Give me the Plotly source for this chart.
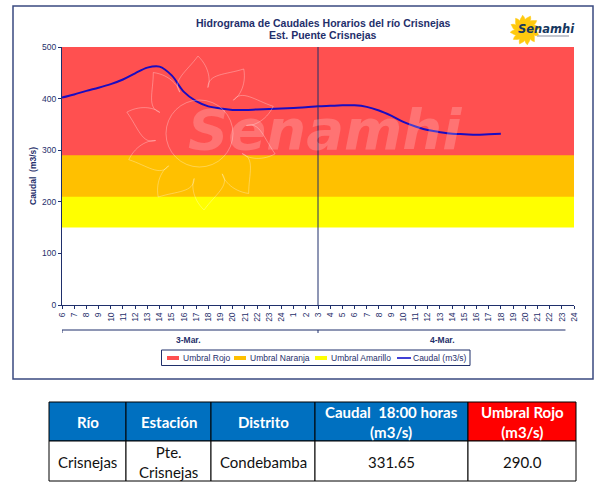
import math
import plotly.graph_objects as go

W = 612
H = 492

# hourly axis, 3-Mar 06h to 4-Mar 24h
horas = [6, 7, 8, 9, 10, 11, 12, 13, 14, 15, 16, 17, 18, 19, 20, 21, 22, 23, 24,
         1, 2, 3, 4, 5, 6, 7, 8, 9, 10, 11, 12, 13, 14, 15, 16, 17, 18, 19, 20, 21, 22, 23, 24]
caudal = [402, 408, 415, 421, 428, 437, 449, 460, 462, 445, 413, 395, 385, 381, 378, 378,
          379, 380, 381, 382, 383, 385, 386, 387, 387, 384, 377, 367, 355, 346, 339, 335,
          332, 331, 330, 331, 332]
umbral_rojo = 290
umbral_naranja = 210
umbral_amarillo = 150
tope = 500

tabla_head = ["Río", "Estación", "Distrito", "Caudal  18:00 horas<br>(m3/s)", "Umbral Rojo<br>(m3/s)"]
tabla_row = ["Crisnejas", "Pte.<br>Crisnejas", "Condebamba", "331.65", "290.0"]
head_colors = ["#0070c0", "#0070c0", "#0070c0", "#0070c0", "#ff0000"]

leg_names = ["Umbral Rojo", "Umbral Naranja", "Umbral Amarillo", "Caudal (m3/s)"]
leg_colors = ["#ff5050", "#ffc000", "#ffff00", "#0000c8"]

NAVY = "#1f2f6b"
WM = "rgba(255,255,255,0.3)"


def px(x):
    return x / W


def py(y):
    return 1 - y / H


def sun_path(cx, cy, r0, r1, n, rot):
    # flame shaped rays around a centre, in pixels
    def pt(r, ang):
        return "%.4f,%.4f" % (px(cx + r * math.cos(ang)), py(cy + r * math.sin(ang)))
    step = 2 * math.pi / n
    parts = ["M" + pt(r0, rot)]
    for i in range(n):
        a = rot + i * step
        b = a + step
        tip = a + step * 0.7
        parts.append("C%s %s %s" % (pt(r1 * 0.78, a - step * 0.05), pt(r1 * 0.82, a + step * 0.4), pt(r1, tip)))
        parts.append("C%s %s %s" % (pt(r1 * 0.85, a + step * 1.0), pt(r1 * 0.66, b + step * 0.05), pt(r0, b)))
    return " ".join(parts) + " Z"


x = list(range(len(horas)))
x_caudal = x[:len(caudal)]

fig = go.Figure()

# threshold bands, largest first so the lower ones paint over
bands = [("Umbral Rojo", tope, leg_colors[0]),
         ("Umbral Naranja", umbral_rojo, leg_colors[1]),
         ("Umbral Amarillo", umbral_naranja, leg_colors[2]),
         ("base", umbral_amarillo, "#ffffff")]
for name, val, col in bands:
    fig.add_trace(go.Scatter(x=x, y=[val] * len(x), name=name, mode="lines", fill="tozeroy",
                             fillcolor=col, line=dict(color=col, width=0), hoverinfo="skip"))

fig.add_trace(go.Scatter(x=x_caudal, y=caudal, name="Caudal (m3/s)", mode="lines",
                         line=dict(color="#1a0cc0", width=2, shape="spline")))

shapes = [
    # outer chart frame
    dict(type="rect", xref="paper", yref="paper", x0=px(13), x1=px(593), y0=py(379), y1=py(6),
         line=dict(color="#3a4a80", width=1.5), layer="below"),
    # day separator
    dict(type="line", xref="x", yref="y", x0=21, x1=21, y0=0, y1=tope,
         line=dict(color=NAVY, width=1)),
    # day bracket under the hours
    dict(type="line", xref="x", yref="paper", x0=0, x1=41.3, y0=py(330), y1=py(330),
         line=dict(color=NAVY, width=1)),
    dict(type="line", xref="x", yref="paper", x0=0, x1=0, y0=py(330), y1=py(333),
         line=dict(color=NAVY, width=1)),
    dict(type="line", xref="x", yref="paper", x0=21, x1=21, y0=py(330), y1=py(333),
         line=dict(color=NAVY, width=1)),
    # watermark sun
    dict(type="circle", xref="paper", yref="paper", x0=px(166), x1=px(233), y0=py(167), y1=py(100),
         line=dict(color=WM, width=1)),
    dict(type="path", xref="paper", yref="paper", path=sun_path(201, 133, 46, 77, 10, -2.05),
         line=dict(color=WM, width=1)),
    # logo
    dict(type="path", xref="paper", yref="paper", path=sun_path(525, 30, 9, 15, 12, 0.0),
         fillcolor="#ffc90e", line=dict(color="#ffc90e", width=0.5)),
    dict(type="line", xref="paper", yref="paper", x0=px(537), x1=px(569), y0=py(36), y1=py(36),
         line=dict(color="#b0b4c0", width=1.5)),
    # legend box
    dict(type="rect", xref="paper", yref="paper", x0=px(161.5), x1=px(470), y0=py(365.5), y1=py(350),
         fillcolor="white", line=dict(color=NAVY, width=1)),
]

annotations = [
    dict(text="<b>Hidrograma de Caudales Horarios del río Crisnejas</b>", x=px(323), y=py(23),
         font=dict(size=10.5, color=NAVY)),
    dict(text="<b>Est. Puente Crisnejas</b>", x=px(323), y=py(35.5),
         font=dict(size=10.5, color=NAVY)),
    dict(text="<b>Caudal  (m3/s)</b>", x=px(33), y=py(176), textangle=-90,
         font=dict(size=8.5, color=NAVY)),
    dict(text="<b>3-Mar.</b>", x=px(188), y=py(340), font=dict(size=8.5, color=NAVY)),
    dict(text="<b>4-Mar.</b>", x=px(442), y=py(340), font=dict(size=8.5, color=NAVY)),
    dict(text="<b><i>Senamhi</i></b>", x=px(325), y=py(130),
         font=dict(size=56, color="rgba(255,255,255,0.2)", family="DejaVu Sans")),
    dict(text="<b><i>Senamhi</i></b>", x=px(546), y=py(29),
         font=dict(size=11.5, color="#17375e", family="DejaVu Sans")),
]

# legend drawn by hand so it fits the narrow box
leg_swatch = [167, 234, 315, 397]
for i, name in enumerate(leg_names):
    x0 = leg_swatch[i]
    if i < 3:
        shapes.append(dict(type="rect", xref="paper", yref="paper", x0=px(x0), x1=px(x0 + 12),
                           y0=py(360), y1=py(356), fillcolor=leg_colors[i], line=dict(width=0)))
    else:
        shapes.append(dict(type="line", xref="paper", yref="paper", x0=px(x0), x1=px(x0 + 14),
                           y0=py(358), y1=py(358), line=dict(color=leg_colors[i], width=1.5)))
    annotations.append(dict(text=name, x=px(x0 + 14), y=py(358), xanchor="left",
                            font=dict(size=8.5, color=NAVY)))

# table below the chart
col_edges = [49, 126, 211, 315, 468, 576]
row_edges = [402, 441, 481]
for i in range(len(tabla_head)):
    l, r = col_edges[i], col_edges[i + 1]
    shapes.append(dict(type="rect", xref="paper", yref="paper", x0=px(l), x1=px(r),
                       y0=py(row_edges[1]), y1=py(row_edges[0]), fillcolor=head_colors[i],
                       line=dict(color="black", width=1)))
    shapes.append(dict(type="rect", xref="paper", yref="paper", x0=px(l), x1=px(r),
                       y0=py(row_edges[2]), y1=py(row_edges[1]), fillcolor="white",
                       line=dict(color="black", width=1)))
    annotations.append(dict(text="<b>%s</b>" % tabla_head[i], x=px((l + r) / 2), y=py(421.5),
                            font=dict(family="Lato", size=15, color="white")))
    annotations.append(dict(text=tabla_row[i], x=px((l + r) / 2), y=py(461.5),
                            font=dict(family="Lato", size=15, color="#111111")))

for a in annotations:
    a.update(xref="paper", yref="paper", showarrow=False, yanchor="middle")
    a.setdefault("xanchor", "center")

fig.update_layout(
    width=W, height=H,
    margin=dict(l=0, r=0, t=0, b=0, autoexpand=False),
    paper_bgcolor="white", plot_bgcolor="white",
    font=dict(family="Liberation Sans", color=NAVY),
    shapes=shapes, annotations=annotations, showlegend=False,
    xaxis=dict(domain=[px(62), px(574)], range=[0, 42], tickmode="array", tickvals=x, ticktext=horas,
               tickangle=-90, tickfont=dict(size=8.5), ticks="outside", ticklen=3, tickcolor=NAVY,
               showgrid=False, zeroline=False, showline=True, linecolor=NAVY, linewidth=1),
    yaxis=dict(domain=[py(305), py(47)], range=[0, 500], tickvals=[0, 100, 200, 300, 400, 500],
               tickfont=dict(size=8.5), ticks="outside", ticklen=3, tickcolor=NAVY,
               showgrid=False, zeroline=False, showline=True, linecolor=NAVY, linewidth=1),
)

fig.write_html("out.html", config=dict(displayModeBar=False),
               post_script="document.body.style.margin='0';")
